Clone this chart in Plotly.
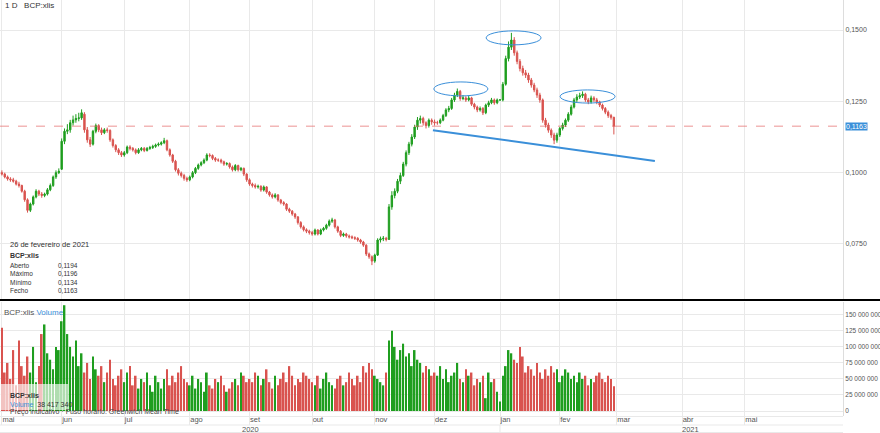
import pandas as pd
import plotly.graph_objects as go

dates = pd.bdate_range("2020-05-01", "2021-02-26")

open_ = [
0.1000,0.0995,0.0985,0.0978,0.0975,0.0970,0.0960,0.0955,0.0935,0.0905,0.0868,0.0890,0.0915,0.0935,0.0925,0.0920,0.0925,0.0940,0.0955,0.0985,0.1000,
0.1012,0.1110,0.1145,0.1150,0.1175,0.1185,0.1190,0.1192,0.1205,0.1150,0.1115,0.1100,0.1145,0.1165,0.1150,0.1140,0.1150,0.1148,0.1115,0.1095,0.1080,0.1070,
0.1062,0.1070,0.1090,0.1085,0.1080,0.1070,0.1080,0.1085,0.1078,0.1085,0.1088,0.1092,0.1097,0.1100,0.1105,0.1112,0.1080,0.1062,0.1040,0.1010,0.0998,0.0990,0.0980,
0.0975,0.0985,0.1000,0.1015,0.1027,0.1035,0.1044,0.1062,0.1060,0.1050,0.1044,0.1044,0.1038,0.1030,0.1032,0.1020,0.1010,0.1025,0.1010,0.1015,0.0995,
0.0975,0.0960,0.0955,0.0950,0.0952,0.0939,0.0950,0.0932,0.0922,0.0915,0.0922,0.0904,0.0895,0.0890,0.0872,0.0865,0.0855,0.0845,0.0825,0.0810,0.0800,0.0795,
0.0790,0.0785,0.0799,0.0785,0.0799,0.0805,0.0816,0.0830,0.0834,0.0810,0.0795,0.0780,0.0785,0.0778,0.0775,0.0772,0.0770,0.0764,0.0757,0.0746,0.0715,0.0705,
0.0690,0.0711,0.0764,0.0768,0.0770,0.0766,0.0880,0.0920,0.0935,0.0970,0.0990,0.1030,0.1070,0.1100,0.1125,0.1160,0.1184,0.1190,0.1175,0.1165,0.1184,
0.1178,0.1175,0.1175,0.1184,0.1200,0.1220,0.1225,0.1255,0.1272,0.1285,0.1260,0.1262,0.1255,0.1262,0.1240,0.1230,0.1220,0.1225,0.1210,0.1237,0.1245,0.1255,0.1245,
0.1255,0.1255,0.1310,0.1400,0.1440,0.1465,0.1420,0.1390,0.1365,0.1350,0.1342,0.1325,0.1307,0.1290,0.1272,0.1255,0.1184,0.1167,0.1149,0.1132,0.1114,
0.1132,0.1155,0.1167,0.1184,0.1205,0.1230,0.1255,0.1265,0.1270,0.1275,0.1255,0.1248,0.1262,0.1255,0.1248,0.1237,0.1225,0.1212,0.1200,0.1194]

high = [
0.1008,0.1000,0.0990,0.0984,0.0982,0.0975,0.0968,0.0958,0.0940,0.0910,0.0895,0.0920,0.0942,0.0940,0.0932,0.0930,0.0946,0.0962,0.0990,0.1008,0.1015,
0.1120,0.1155,0.1170,0.1185,0.1200,0.1205,0.1210,0.1222,0.1212,0.1160,0.1125,0.1150,0.1172,0.1170,0.1158,0.1156,0.1158,0.1152,0.1120,0.1100,0.1086,0.1076,
0.1076,0.1095,0.1096,0.1090,0.1085,0.1086,0.1090,0.1090,0.1090,0.1094,0.1098,0.1102,0.1106,0.1110,0.1122,0.1116,0.1085,0.1066,0.1045,0.1016,0.1004,0.0996,0.0986,
0.0990,0.1006,0.1020,0.1032,0.1040,0.1050,0.1068,0.1068,0.1064,0.1055,0.1050,0.1049,0.1042,0.1037,0.1036,0.1025,0.1030,0.1028,0.1020,0.1018,0.0998,
0.0980,0.0965,0.0962,0.0958,0.0956,0.0955,0.0953,0.0936,0.0927,0.0928,0.0925,0.0908,0.0900,0.0893,0.0877,0.0869,0.0859,0.0848,0.0830,0.0815,0.0805,0.0800,
0.0796,0.0804,0.0802,0.0804,0.0810,0.0821,0.0836,0.0842,0.0838,0.0814,0.0799,0.0790,0.0789,0.0783,0.0780,0.0777,0.0774,0.0768,0.0761,0.0749,0.0720,0.0710,
0.0716,0.0770,0.0776,0.0778,0.0775,0.0890,0.0935,0.0945,0.0978,0.1000,0.1038,0.1078,0.1108,0.1135,0.1168,0.1195,0.1200,0.1196,0.1180,0.1190,0.1190,
0.1186,0.1182,0.1190,0.1206,0.1226,0.1234,0.1262,0.1280,0.1295,0.1290,0.1272,0.1268,0.1270,0.1266,0.1245,0.1235,0.1232,0.1230,0.1242,0.1252,0.1262,0.1260,0.1260,
0.1258,0.1318,0.1410,0.1460,0.1490,0.1475,0.1428,0.1398,0.1375,0.1360,0.1350,0.1332,0.1315,0.1298,0.1280,0.1260,0.1192,0.1175,0.1155,0.1140,0.1140,
0.1160,0.1175,0.1190,0.1212,0.1238,0.1262,0.1275,0.1280,0.1285,0.1280,0.1262,0.1270,0.1268,0.1262,0.1252,0.1242,0.1230,0.1218,0.1206,0.1196]

low = [
0.0990,0.0980,0.0972,0.0968,0.0965,0.0955,0.0948,0.0930,0.0898,0.0860,0.0862,0.0885,0.0910,0.0918,0.0912,0.0914,0.0920,0.0935,0.0950,0.0978,0.0995,
0.1010,0.1100,0.1135,0.1140,0.1165,0.1175,0.1180,0.1185,0.1140,0.1105,0.1090,0.1095,0.1138,0.1142,0.1132,0.1135,0.1140,0.1108,0.1088,0.1072,0.1062,0.1055,
0.1056,0.1065,0.1078,0.1074,0.1064,0.1066,0.1075,0.1072,0.1074,0.1080,0.1083,0.1087,0.1092,0.1095,0.1100,0.1075,0.1056,0.1034,0.1004,0.0990,0.0983,0.0972,0.0968,
0.0970,0.0980,0.0995,0.1010,0.1022,0.1030,0.1040,0.1054,0.1044,0.1038,0.1038,0.1032,0.1024,0.1025,0.1014,0.1004,0.1005,0.1004,0.1005,0.0988,0.0968,
0.0954,0.0948,0.0944,0.0944,0.0933,0.0934,0.0926,0.0916,0.0909,0.0910,0.0898,0.0889,0.0884,0.0866,0.0859,0.0849,0.0838,0.0818,0.0804,0.0794,0.0788,0.0783,
0.0779,0.0780,0.0780,0.0781,0.0794,0.0800,0.0811,0.0824,0.0804,0.0789,0.0774,0.0775,0.0772,0.0769,0.0767,0.0764,0.0758,0.0751,0.0740,0.0708,0.0698,0.0676,
0.0684,0.0708,0.0755,0.0760,0.0759,0.0765,0.0870,0.0910,0.0928,0.0960,0.0985,0.1022,0.1062,0.1092,0.1118,0.1150,0.1172,0.1165,0.1155,0.1158,0.1168,
0.1165,0.1168,0.1170,0.1180,0.1195,0.1212,0.1220,0.1248,0.1265,0.1252,0.1254,0.1248,0.1250,0.1234,0.1222,0.1212,0.1214,0.1202,0.1205,0.1230,0.1240,0.1238,0.1240,
0.1252,0.1250,0.1305,0.1390,0.1430,0.1410,0.1380,0.1355,0.1340,0.1332,0.1315,0.1298,0.1282,0.1262,0.1245,0.1175,0.1158,0.1140,0.1122,0.1100,0.1105,
0.1125,0.1148,0.1160,0.1178,0.1200,0.1225,0.1248,0.1258,0.1262,0.1248,0.1240,0.1242,0.1248,0.1240,0.1230,0.1218,0.1205,0.1192,0.1186,0.1134]

close = [
0.0995,0.0985,0.0978,0.0975,0.0970,0.0960,0.0955,0.0935,0.0905,0.0868,0.0890,0.0915,0.0935,0.0925,0.0920,0.0925,0.0940,0.0955,0.0985,0.1000,0.1005,
0.1110,0.1145,0.1150,0.1175,0.1185,0.1190,0.1192,0.1210,0.1150,0.1115,0.1100,0.1145,0.1165,0.1150,0.1140,0.1150,0.1148,0.1115,0.1095,0.1080,0.1070,0.1062,
0.1070,0.1090,0.1085,0.1080,0.1070,0.1080,0.1085,0.1078,0.1085,0.1088,0.1092,0.1097,0.1100,0.1105,0.1112,0.1080,0.1062,0.1040,0.1010,0.0998,0.0990,0.0980,0.0975,
0.0985,0.1000,0.1015,0.1027,0.1035,0.1044,0.1062,0.1060,0.1050,0.1044,0.1044,0.1038,0.1030,0.1032,0.1020,0.1010,0.1025,0.1010,0.1015,0.0995,0.0975,
0.0960,0.0955,0.0950,0.0952,0.0939,0.0950,0.0932,0.0922,0.0915,0.0922,0.0904,0.0895,0.0890,0.0872,0.0865,0.0855,0.0845,0.0825,0.0810,0.0800,0.0795,0.0790,
0.0785,0.0799,0.0785,0.0799,0.0805,0.0816,0.0830,0.0834,0.0810,0.0795,0.0780,0.0785,0.0778,0.0775,0.0772,0.0770,0.0764,0.0757,0.0746,0.0715,0.0705,0.0690,
0.0711,0.0764,0.0768,0.0770,0.0766,0.0880,0.0920,0.0935,0.0970,0.0990,0.1030,0.1070,0.1100,0.1125,0.1160,0.1184,0.1190,0.1175,0.1165,0.1184,0.1178,
0.1175,0.1175,0.1184,0.1200,0.1220,0.1225,0.1255,0.1272,0.1285,0.1260,0.1262,0.1255,0.1262,0.1240,0.1230,0.1220,0.1225,0.1210,0.1237,0.1245,0.1255,0.1245,0.1255,
0.1255,0.1310,0.1400,0.1440,0.1465,0.1420,0.1390,0.1365,0.1350,0.1342,0.1325,0.1307,0.1290,0.1272,0.1255,0.1184,0.1167,0.1149,0.1132,0.1114,0.1132,
0.1155,0.1167,0.1184,0.1205,0.1230,0.1255,0.1265,0.1270,0.1275,0.1255,0.1248,0.1262,0.1255,0.1248,0.1237,0.1225,0.1212,0.1200,0.1194,0.1163]

volume_m = [130,60,75,50,95,40,110,70,55,85,60,100,45,70,120,135,90,80,65,100,95,
140,165,120,100,85,110,70,90,60,75,50,85,65,55,70,45,60,80,50,40,55,65,
45,60,70,40,55,35,50,45,60,40,30,55,45,35,50,65,40,55,45,60,70,50,45,
40,55,35,50,45,30,60,40,35,50,45,55,40,30,35,45,50,40,60,55,45,
50,45,60,55,40,50,65,45,35,55,40,50,60,45,70,55,40,50,45,60,55,50,
45,40,55,35,50,60,45,40,35,50,55,40,45,60,50,40,55,45,70,60,75,65,
55,50,45,40,60,110,125,100,80,95,105,85,90,70,95,80,75,60,70,65,55,
60,55,70,50,65,45,55,60,75,50,45,65,55,60,40,50,45,55,20,60,45,50,30,
15,55,70,95,90,80,75,100,85,60,70,65,55,75,60,50,65,55,70,60,65,
45,55,65,60,50,55,45,60,50,55,40,50,45,55,60,50,45,55,50,38.41734]

month_ticks = ["2020-05-01","2020-06-01","2020-07-01","2020-08-03","2020-09-01","2020-10-01","2020-11-02",
               "2020-12-01","2021-01-01","2021-02-01","2021-03-01","2021-04-01","2021-05-03"]
month_labels = ["mai","jun","jul","ago","set","out","nov","dez","jan","fev","mar","abr","mai"]
price_ticks = [0.075, 0.100, 0.125, 0.150]
price_labels = ["0,0750", "0,1000", "0,1250", "0,1500"]
vol_ticks = [0, 25e6, 50e6, 75e6, 100e6, 125e6, 150e6]
vol_labels = ["0", "25 000 000", "50 000 000", "75 000 000", "100 000 000", "125 000 000", "150 000 000"]

# head & shoulders drawing (dates, prices)
ellipses = [
    ("2020-11-30 18:00", "2020-12-25 18:00", 0.1269, 0.1318),
    ("2020-12-25 03:00", "2021-01-21 10:00", 0.1448, 0.1497),
    ("2021-02-01 03:00", "2021-02-26 10:00", 0.1244, 0.1290),
]
neckline_x = ["2020-11-30 10:00", "2021-03-18 10:00"]
neckline_y = [0.1149, 0.1041]
last_price = 0.1163

GREEN = "#1f9e1f"
RED = "#d9534f"
GRID = "#e9e9e9"
TXT = "#555555"
BLUE = "#3a8fd9"
FONT = "Arial, Liberation Sans, sans-serif"

vol_colors = [GREEN if c >= o else RED for o, c in zip(open_, close)]

fig = go.Figure()
fig.add_trace(go.Candlestick(
    x=dates, open=open_, high=high, low=low, close=close,
    increasing=dict(line=dict(color=GREEN, width=1), fillcolor=GREEN),
    decreasing=dict(line=dict(color=RED, width=1), fillcolor=RED),
    xaxis="x", yaxis="y2", showlegend=False, hoverinfo="skip"))
fig.add_trace(go.Bar(
    x=dates, y=[v * 1e6 for v in volume_m], marker=dict(color=vol_colors, line=dict(width=0)),
    width=0.6 * 86400000,
    xaxis="x", yaxis="y", showlegend=False, hoverinfo="skip"))

PH = 416.0
price_dom = [(PH - 300) / PH, 1]
vol_dom = [0, (PH - 302) / PH]

fig.update_layout(
    width=880, height=433,
    margin=dict(l=0, r=37, t=0, b=17, autoexpand=False),
    paper_bgcolor="white", plot_bgcolor="white",
    font=dict(family=FONT, size=8, color=TXT),
    xaxis=dict(type="date", rangebreaks=[dict(bounds=["sat", "mon"])],
               range=["2020-04-30 08:00", "2021-06-18 12:00"],
               tickvals=month_ticks, ticktext=month_labels,
               ticklabelposition="outside right", ticks="outside", ticklen=8, tickcolor=GRID,
               ticklabelstandoff=-4,
               showgrid=True, gridcolor=GRID, gridwidth=1, anchor="y",
               rangeslider=dict(visible=False), showline=False, zeroline=False,
               tickfont=dict(size=7.5, color=TXT)),
    xaxis2=dict(type="date", matches="x", anchor="y2", showticklabels=False,
                showgrid=True, gridcolor=GRID, rangebreaks=[dict(bounds=["sat", "mon"])],
                tickvals=month_ticks, rangeslider=dict(visible=False)),
    yaxis=dict(domain=vol_dom, side="right", range=[-7.8e6, 170e6],
               tickvals=vol_ticks, ticktext=vol_labels, showgrid=True, gridcolor=GRID,
               zeroline=False, showline=True, linecolor="#dddddd", ticks="", tickfont=dict(size=6.5, color=TXT)),
    yaxis2=dict(domain=price_dom, side="right", range=[0.05537, 0.16052], anchor="x",
                tickvals=price_ticks, ticktext=price_labels, showgrid=True, gridcolor=GRID,
                zeroline=False, showline=True, linecolor="#dddddd", ticks="", tickfont=dict(size=7, color=TXT)),
)

shapes = []
for x0, x1, y0, y1 in ellipses:
    shapes.append(dict(type="circle", xref="x", yref="y2", x0=x0, x1=x1, y0=y0, y1=y1,
                       line=dict(color=BLUE, width=1)))
shapes.append(dict(type="line", xref="x", yref="y2", x0=neckline_x[0], x1=neckline_x[1],
                   y0=neckline_y[0], y1=neckline_y[1], line=dict(color=BLUE, width=2)))
shapes.append(dict(type="line", xref="paper", yref="y2", x0=0, x1=1, y0=last_price, y1=last_price,
                   line=dict(color="rgba(230,110,110,0.75)", width=1, dash="dash")))
sep_y = (PH - 300) / PH
shapes.append(dict(type="line", xref="paper", yref="paper", x0=0, x1=880 / 843, y0=sep_y, y1=sep_y,
                   line=dict(color="black", width=2)))
for py in [416.5, 425, 432.5]:
    yy = (PH - py) / PH
    shapes.append(dict(type="line", xref="paper", yref="paper", x0=0, x1=1, y0=yy, y1=yy,
                       line=dict(color=GRID, width=1)))
shapes.append(dict(type="line", xref="x", yref="paper", x0="2021-01-01", x1="2021-01-01",
                   y0=(PH - 425) / PH, y1=(PH - 433) / PH, line=dict(color=GRID, width=1)))
shapes.append(dict(type="rect", xref="paper", yref="paper", x0=0, x1=68 / 843,
                   y0=(PH - 410) / PH, y1=(PH - 384) / PH, fillcolor="rgba(255,255,255,0.65)",
                   line=dict(width=0)))
fig.update_layout(shapes=shapes)

def ann(x, y, text, size=8, color=TXT, xanchor="left", bold=False, **kw):
    if bold:
        text = "<b>" + text + "</b>"
    fig.add_annotation(x=x / 843, y=(PH - y) / PH, xref="paper", yref="paper", text=text,
                       showarrow=False, xanchor=xanchor, yanchor="middle",
                       font=dict(size=size, color=color, family=FONT), **kw)

ann(3, 6, "1 D&nbsp;&nbsp;&nbsp;BCP:xlis", size=8, color="#333")
ann(8, 244, "26 de fevereiro de 2021", size=7.5, color="#333")
ann(8, 255.5, "BCP:xlis", size=7, color="#333", bold=True)
rows = [("Aberto", "0,1194"), ("Máximo", "0,1196"), ("Mínimo", "0,1134"), ("Fecho", "0,1163")]
for k, (lab, val) in enumerate(rows):
    ann(8, 265 + k * 8.5, lab, size=6.5, color="#333")
    ann(56, 265 + k * 8.5, val, size=6.5, color="#333")

ann(2, 312, "BCP:xlis <span style='color:%s'>Volume</span>" % BLUE, size=8, color=TXT)
ann(8, 395, "BCP:xlis", size=7, color="#333", bold=True)
ann(8, 404, "<span style='color:%s'>Volume</span>&nbsp;&nbsp;38 417 340" % BLUE, size=7, color="#333")
ann(8, 412, "Preço indicativo · Fuso horário: Greenwich Mean Time", size=7, color="#444")

fig.add_annotation(x=845 / 843, y=(PH - 126.5) / PH, xref="paper", yref="paper", text="0,1163",
                   showarrow=False, xanchor="left", yanchor="middle", bgcolor=BLUE,
                   font=dict(size=7, color="white", family=FONT), borderpad=0)
fig.add_annotation(x=250 / 843, y=(PH - 429) / PH, xref="paper", yref="paper", text="2020",
                   showarrow=False, xanchor="center", yanchor="middle", font=dict(size=7.5, color=TXT))
fig.add_annotation(x=690 / 843, y=(PH - 429) / PH, xref="paper", yref="paper", text="2021",
                   showarrow=False, xanchor="center", yanchor="middle", font=dict(size=7.5, color=TXT))

fig.write_html("out.html", config={"displayModeBar": False},
               post_script="document.body.style.margin='0';document.body.style.padding='0';")
